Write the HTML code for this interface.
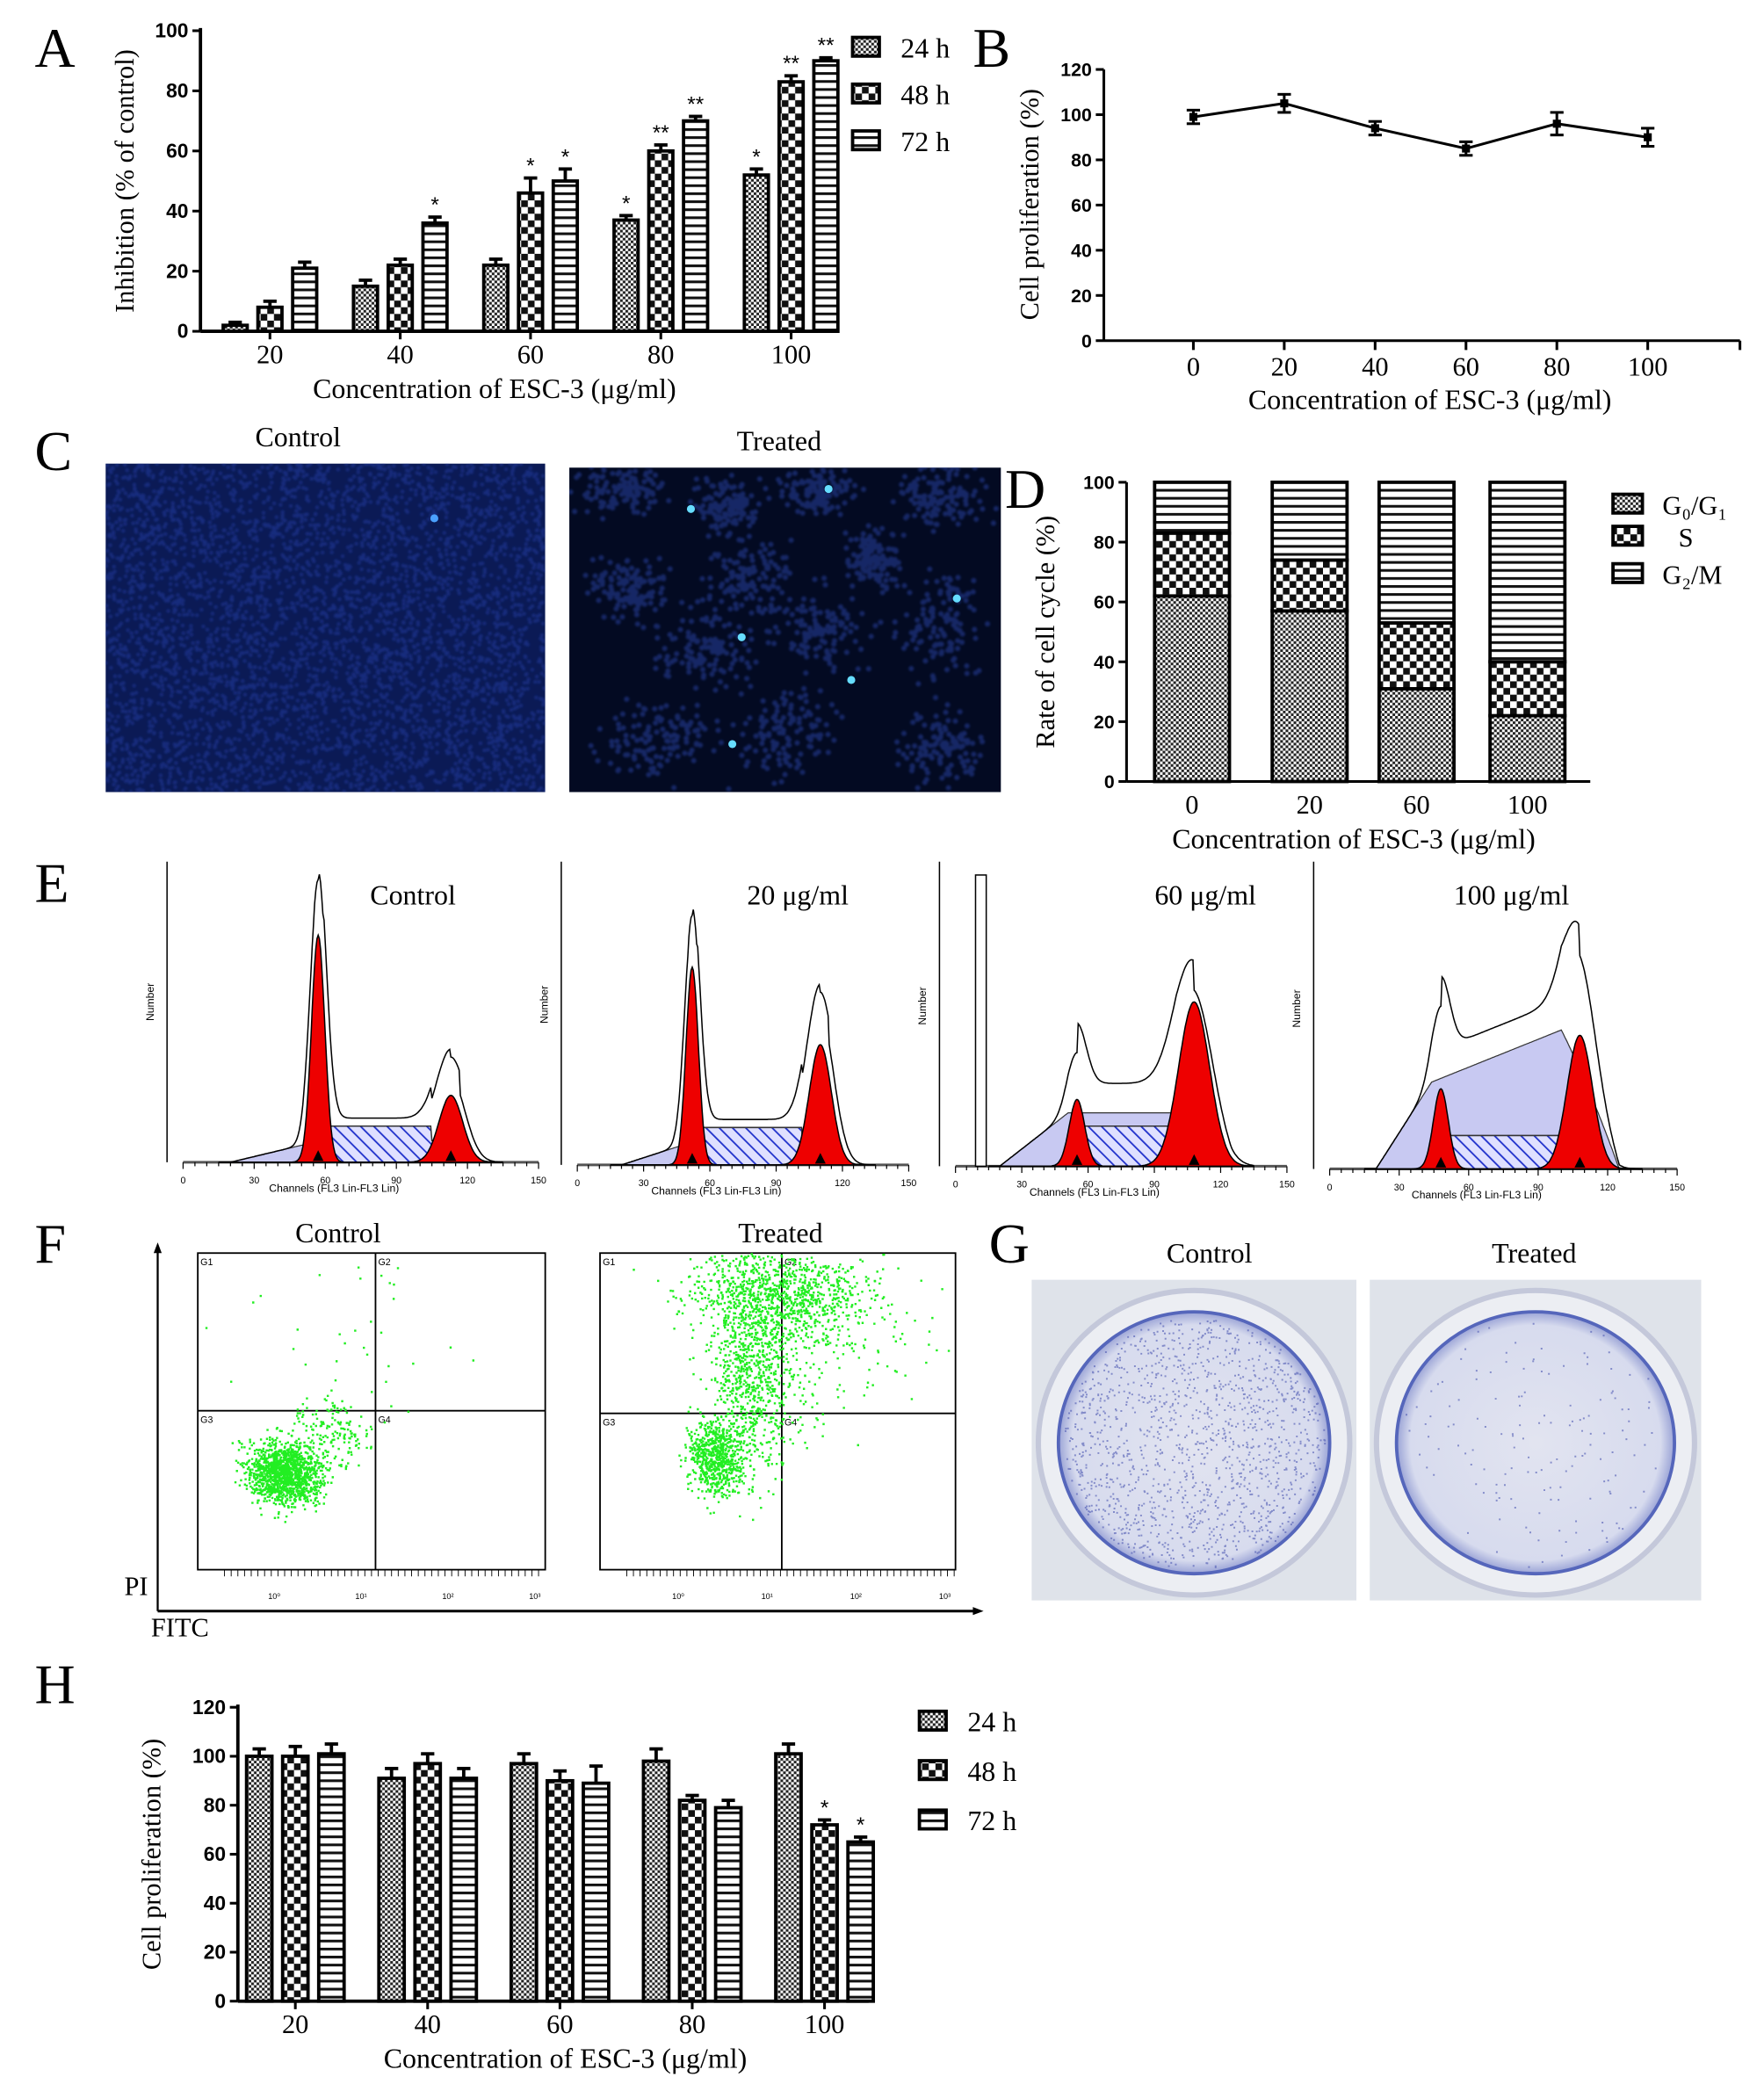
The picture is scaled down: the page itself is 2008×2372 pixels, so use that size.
<!DOCTYPE html>
<html><head><meta charset="utf-8"><style>
html,body{margin:0;padding:0;background:#fff;}
svg{display:block;}
text{font-family:"Liberation Serif",serif;}
.sans{font-family:"Liberation Sans",sans-serif;}
</style></head><body>
<svg id="fig" xmlns="http://www.w3.org/2000/svg" width="2008" height="2372" viewBox="0 0 1320 1560" preserveAspectRatio="none">
<defs>
<pattern id="p24" width="4" height="4" patternUnits="userSpaceOnUse"><rect width="4" height="4" fill="#fff"/><rect width="2" height="2" fill="#222"/><rect x="2" y="2" width="2" height="2" fill="#222"/></pattern>
<pattern id="p48" width="10" height="10" patternUnits="userSpaceOnUse"><rect width="10" height="10" fill="#fff"/><rect width="5" height="5" fill="#111"/><rect x="5" y="5" width="5" height="5" fill="#111"/></pattern>
<pattern id="p72" width="6" height="6" patternUnits="userSpaceOnUse"><rect width="6" height="6" fill="#fff"/><rect y="0" width="6" height="2" fill="#111"/></pattern>
<pattern id="hatch" width="7" height="7" patternUnits="userSpaceOnUse" patternTransform="rotate(-45)"><rect width="7" height="7" fill="#dfe0ff"/><rect width="1.2" height="7" fill="#2233cc"/></pattern>
<radialGradient id="dish" cx="50%" cy="50%" r="50%"><stop offset="0" stop-color="#e2e4f0"/><stop offset="0.9" stop-color="#d7dbee"/><stop offset="1" stop-color="#9aa3d6"/></radialGradient>
<clipPath id="clipC1"><rect x="79" y="347" width="329" height="246"/></clipPath>
<clipPath id="clipC2"><rect x="426" y="350" width="323" height="243"/></clipPath>
<filter id="blur1"><feGaussianBlur stdDeviation="0.8"/></filter>
</defs>
<g id="root"></g>
</svg>
<script>
const NS="http://www.w3.org/2000/svg";
const root=document.getElementById('root');
function el(tag,attrs,parent,txt){const e=document.createElementNS(NS,tag);for(const k in attrs)e.setAttribute(k,attrs[k]);if(txt!==undefined)e.textContent=txt;(parent||root).appendChild(e);return e;}

// ---------- Panel A data ----------
const aCats=["20","40","60","80","100"];
const a24=[2,15,22,37,52];
const a48=[8,22,46,60,83];
const a72=[21,36,50,70,90];
const a24err=[1,2,2,1.5,2];
const a48err=[2,2,5,2,2];
const a72err=[2,2,4,1.5,1];
const a24star=["","","","*","*"];
const a48star=["","","*","**","**"];
const a72star=["","*","*","**","**"];
const aTicks=[0,20,40,60,80,100];
// ---------- Panel B data ----------
const bCats=[0,20,40,60,80,100];
const bVals=[99,105,94,85,96,90];
const bErr=[3,4,3,3,5,4];
const bTicks=[0,20,40,60,80,100,120];
// ---------- Panel D data ----------
const dCats=["0","20","60","100"];
const dG1=[62,57,31,22];
const dS=[21,17,22,18];
const dG2=[17,26,47,60];
const dTicks=[0,20,40,60,80,100];
// ---------- Panel H data ----------
const hCats=["20","40","60","80","100"];
const h24=[100,91,97,98,101];
const h48=[100,97,90,82,72];
const h72=[101,91,89,79,65];
const h24err=[3,4,4,5,4];
const h48err=[4,4,4,2,2];
const h72err=[4,4,7,3,2];
const h48star=["","","","","*"];
const h72star=["","","","","*"];
const hTicks=[0,20,40,60,80,100,120];

function panelLetter(t,x,y){const e=el('text',{x:x,y:y,'font-size':42},root,t);

}

function groupedBars(cfg){
  const g=el('g',{});
  
  
  const y=v=>cfg.y0-(v-cfg.vmin)/(cfg.vmax-cfg.vmin)*(cfg.y0-cfg.y1);
  const xc=i=>cfg.c0+i*cfg.step;
  const ya=el('line',{x1:cfg.ax,y1:cfg.y1-2,x2:cfg.ax,y2:cfg.y0,stroke:'#000','stroke-width':2.5},g);
  
  
  const xa=el('line',{x1:cfg.ax,y1:cfg.y0,x2:cfg.xend,y2:cfg.y0,stroke:'#000','stroke-width':2.5},g);
  
  
  cfg.ticks.forEach(t=>{el('line',{x1:cfg.ax-6,y1:y(t),x2:cfg.ax,y2:y(t),stroke:'#000','stroke-width':2},g);
    const tl=el('text',{x:cfg.ax-9,y:y(t)+5,'font-size':15,'font-weight':'bold','text-anchor':'end',class:'sans'},g,t);
    
    });
  cfg.cats.forEach((c,i)=>{el('line',{x1:xc(i),y1:cfg.y0,x2:xc(i),y2:cfg.y0+6,stroke:'#000','stroke-width':2},g);
    const tl=el('text',{x:xc(i),y:cfg.y0+24,'font-size':20,'text-anchor':'middle'},g,c);
    
    });
  cfg.series.forEach((s,si)=>{
    s.vals.forEach((v,i)=>{
      const cx=xc(i)+(si-1)*cfg.off;
      const r=el('rect',{x:cx-cfg.bw/2,y:y(v),width:cfg.bw,height:cfg.y0-y(v),fill:'url(#'+s.pat+')',stroke:'#000','stroke-width':2.5},g);
      
      
      const te=y(v+s.err[i]);
      el('line',{x1:cx,y1:y(v),x2:cx,y2:te,stroke:'#000','stroke-width':2.5},g);
      el('line',{x1:cx-5,y1:te,x2:cx+5,y2:te,stroke:'#000','stroke-width':2.5},g);
      if(s.star&&s.star[i]){const st=el('text',{x:cx,y:te-4,'font-size':16,'text-anchor':'middle',class:'sans'},g,s.star[i]);
        
        }
    });
  });
  const yt=el('text',{transform:`translate(${cfg.ylx},${(cfg.y0+cfg.y1)/2}) rotate(-90)`,'font-size':20,'text-anchor':'middle'},g,cfg.ylab);
  
  
  const xt=el('text',{x:cfg.xlx,y:cfg.y0+50,'font-size':21,'text-anchor':'middle'},g,cfg.xlab);
  
  
  cfg.legend.forEach((L,i)=>{
    const ly=cfg.legY+i*cfg.legStep;
    const lr=el('rect',{x:cfg.legX,y:ly-8,width:20,height:14,fill:'url(#'+L.pat+')',stroke:'#000','stroke-width':2.5},g);
    
    
    const lt=el('text',{x:cfg.legX+36,y:ly+7,'font-size':21},g,L.label);
    
    
  });
}

// ---- Panel A ----
panelLetter('A',26,50);
groupedBars({name:'chart-a-inhibition',y0:248,y1:23,vmin:0,vmax:100,ax:150,xend:612,c0:202,step:97.5,off:26,bw:18,
 cats:aCats,ticks:aTicks,
 series:[{key:'24h',vals:a24,err:a24err,star:a24star,pat:'p24'},{key:'48h',vals:a48,err:a48err,star:a48star,pat:'p48'},{key:'72h',vals:a72,err:a72err,star:a72star,pat:'p72'}],
 ylab:'Inhibition (% of control)',ylx:100,xlab:'Concentration of ESC-3 (μg/ml)',xlx:370,
 legend:[{key:'24h',label:'24 h',pat:'p24'},{key:'48h',label:'48 h',pat:'p48'},{key:'72h',label:'72 h',pat:'p72'}],legX:638,legY:36,legStep:35});

// ---- Panel B ----
panelLetter('B',728,50);
(function(){
 const g=el('g',{});
 
 
 const y0=255,y1=52,ax=826;
 const y=v=>y0-v/120*(y0-y1);
 const x=v=>893+v/100*(1233-893);
 el('line',{x1:ax,y1:y1,x2:ax,y2:y0,stroke:'#000','stroke-width':2},g);
 el('line',{x1:ax,y1:y0,x2:1302,y2:y0,stroke:'#000','stroke-width':2},g);
 el('line',{x1:1302,y1:y0,x2:1302,y2:y0+7,stroke:'#000','stroke-width':2},g);
 bTicks.forEach(t=>{el('line',{x1:ax-6,y1:y(t),x2:ax,y2:y(t),stroke:'#000','stroke-width':2},g);
  el('text',{x:ax-9,y:y(t)+5,'font-size':14,'font-weight':'bold','text-anchor':'end',class:'sans'},g,t);});
 bCats.forEach(c=>{el('line',{x1:x(c),y1:y0,x2:x(c),y2:y0+7,stroke:'#000','stroke-width':2},g);
  el('text',{x:x(c),y:y0+26,'font-size':20,'text-anchor':'middle'},g,c);});
 const pts=bCats.map((c,i)=>x(c)+','+y(bVals[i])).join(' ');
 const pl=el('polyline',{points:pts,fill:'none',stroke:'#000','stroke-width':2},g);
 
 
 bCats.forEach((c,i)=>{const cx=x(c),cy=y(bVals[i]);
  const p=el('rect',{x:cx-3,y:cy-3,width:6,height:6,fill:'#000'},g);
  
  
  el('line',{x1:cx,y1:y(bVals[i]-bErr[i]),x2:cx,y2:y(bVals[i]+bErr[i]),stroke:'#000','stroke-width':2},g);
  [bVals[i]-bErr[i],bVals[i]+bErr[i]].forEach(v=>el('line',{x1:cx-5,y1:y(v),x2:cx+5,y2:y(v),stroke:'#000','stroke-width':2},g));});
 el('text',{transform:`translate(777,153) rotate(-90)`,'font-size':20,'text-anchor':'middle'},g,'Cell proliferation (%)');
 el('text',{x:1070,y:306,'font-size':21,'text-anchor':'middle'},g,'Concentration of ESC-3 (μg/ml)');
})();

// ---- Panel C (microscopy images) ----
panelLetter('C',26,352);
(function(){
 let seed=7;const rnd=()=>{seed=(seed*16807)%2147483647;return seed/2147483647;};
 const gn=()=>{let s=0;for(let i=0;i<4;i++)s+=rnd();return (s-2)/0.58;};
 const g1=el('g',{'clip-path':'url(#clipC1)'});
 
 
 el('rect',{x:79,y:347,width:329,height:246,fill:'#0b1a55'},g1);
 let d='';
 for(let i=0;i<4500;i++){const px=79+rnd()*329,py=347+rnd()*246;d+=`M${px.toFixed(1)},${py.toFixed(1)}m-1.4,0a1.4,1.4 0 1,0 2.8,0a1.4,1.4 0 1,0 -2.8,0`;}
 el('path',{d:d,fill:'#1f3aa0','fill-opacity':0.55,filter:'url(#blur1)'},g1);
 el('circle',{cx:325,cy:388,r:3,fill:'#4aa0ff'},g1);
 const g2=el('g',{'clip-path':'url(#clipC2)'});
 
 
 el('rect',{x:426,y:350,width:323,height:243,fill:'#030a22'},g2);
 const cl=[[465,365,16,10],[545,380,12,9],[612,368,14,8],[705,372,16,12],[560,432,16,14],[470,440,13,11],[612,470,20,14],[530,485,18,16],[705,470,14,20],[490,555,20,14],[592,548,18,16],[705,560,16,12],[655,418,11,11]];
 d='';
 cl.forEach(([cx,cy,sx,sy])=>{for(let i=0;i<130;i++){const px=cx+gn()*sx,py=cy+gn()*sy;d+=`M${px.toFixed(1)},${py.toFixed(1)}m-2,0a2,2 0 1,0 4,0a2,2 0 1,0 -4,0`;}});
 el('path',{d:d,fill:'#2d4ab8','fill-opacity':0.45,filter:'url(#blur1)'},g2);
 [[620,366],[555,477],[716,448],[517,381],[637,509],[548,557]].forEach(([x,y])=>el('circle',{cx:x,cy:y,r:3,fill:'#66ddff'},g2));
 [['Control',223,334],['Treated',583,337]].forEach(([lab,tx,ty])=>{
  const t=el('text',{x:tx,y:ty,'font-size':21,'text-anchor':'middle'},root,lab);
  
  });
})();

// ---- Panel D ----
panelLetter('D',752,380);
(function(){
 const g=el('g',{});
 
 
 const y0=585,y1=361,ax=843;
 const y=v=>y0-v/100*(y0-y1);
 const xs=[892,980,1060,1143];
 el('line',{x1:ax,y1:y1,x2:ax,y2:y0,stroke:'#000','stroke-width':2},g);
 el('line',{x1:ax,y1:y0,x2:1190,y2:y0,stroke:'#000','stroke-width':2},g);
 dTicks.forEach(t=>{el('line',{x1:ax-6,y1:y(t),x2:ax,y2:y(t),stroke:'#000','stroke-width':2},g);
  el('text',{x:ax-9,y:y(t)+5,'font-size':14,'font-weight':'bold','text-anchor':'end',class:'sans'},g,t);});
 dCats.forEach((c,i)=>{
  el('text',{x:xs[i],y:y0+24,'font-size':20,'text-anchor':'middle'},g,c);
  let base=0;
  [[dG1,'p24','g0g1'],[dS,'p48','s'],[dG2,'p72','g2m']].forEach(([arr,p,k])=>{
   const r=el('rect',{x:xs[i]-28,y:y(base+arr[i]),width:56,height:y(base)-y(base+arr[i]),fill:'url(#'+p+')',stroke:'#000','stroke-width':2.5},g);
   
   
   base+=arr[i];});
 });
 el('text',{transform:`translate(789,473) rotate(-90)`,'font-size':20,'text-anchor':'middle'},g,'Rate of cell cycle (%)');
 el('text',{x:1013,y:635,'font-size':21,'text-anchor':'middle'},g,'Concentration of ESC-3 (μg/ml)');
 [['p24','G₀/G₁',378],['p48','S',402],['p72','G₂/M',430]].forEach(([p,l,ly])=>{
  el('rect',{x:1207,y:ly-8,width:22,height:14,fill:'url(#'+p+')',stroke:'#000','stroke-width':2.5},g);
  const t=el('text',{x:l==='S'?1256:1244,y:ly+7,'font-size':20},g,l);
  
  });
})();

// ---- Panel E (flow histograms) ----
panelLetter('E',26,675);
const eTitles=["Control","20 μg/ml","60 μg/ml","100 μg/ml"];
const eG1pos=[57,52,55,48];
const eG1h=[170,148,50,60];
const eG1w=[2.8,2.8,3.5,3.2];
const eG2pos=[113,110,108,108];
const eG2h=[50,90,123,100];
const eG2w=[5,5,7,5.5];
const eSh=[27,28,30,25];
const eDebris=[14,15,40,65];
(function(){
 const px=[[137,403,870],[432,680,872],[715,963,873],[995,1255,875]];
 eTitles.forEach((t,k)=>{
  const [xa,xb,yb]=px[k];
  const g=el('g',{});
  
  
  const X=c=>xa+c/150*(xb-xa);
  el('line',{x1:xa,y1:yb,x2:xb,y2:yb,stroke:'#555','stroke-width':2},g);
  el('line',{x1:xa-12,y1:yb,x2:xa-12,y2:645,stroke:'#000','stroke-width':1},g);
  for(let c=0;c<=150;c+=5)el('line',{x1:X(c),y1:yb,x2:X(c),y2:yb+(c%30?3:5),stroke:'#000','stroke-width':0.8},g);
  [0,30,60,90,120,150].forEach(c=>el('text',{x:X(c),y:yb+16,'font-size':7,'text-anchor':'middle',class:'sans'},g,c));
  el('text',{x:(xa+xb)/2-20,y:yb+22,'font-size':8,'text-anchor':'middle',class:'sans'},g,'Channels (FL3 Lin-FL3 Lin)');
  el('text',{transform:`translate(${xa-22},${yb-120}) rotate(-90)`,'font-size':8,'text-anchor':'middle',class:'sans'},g,'Number');
  const gauss=(c,m,h,w)=>h*Math.exp(-((c-m)*(c-m))/(2*w*w));
  const deb=c=>{const s=20,e=eG1pos[k]-4;if(c<s)return 0;if(c<e)return eDebris[k]*(c-s)/(e-s);
    if(k>=2){const top=eDebris[k]*(1+(k==3?0.6:0)*(c-e)/(100-e));return c<100?top:Math.max(0,top*(125-c)/25);}
    return Math.max(0,eDebris[k]*(1-(c-e)/20));};
  const S=c=>(c>eG1pos[k]+2&&c<eG2pos[k]-8)?eSh[k]:((c>eG1pos[k]-2&&c<=eG1pos[k]+2)||(c>=eG2pos[k]-8&&c<eG2pos[k]+4)?eSh[k]*0.6:0);
  const path=f=>{let d='M'+X(15)+','+yb;for(let c=15;c<=135;c+=0.5)d+=' L'+X(c).toFixed(1)+','+(yb-f(c)).toFixed(1);return d+' L'+X(135)+','+yb+' Z';};
  const deb1=el('path',{d:path(deb),fill:'#c8c9f2',stroke:'#333','stroke-width':0.8},g);
  
  
  const sArea=el('path',{d:path(S),fill:'url(#hatch)',stroke:'#333','stroke-width':1},g);
  
  
  const p1=el('path',{d:path(c=>gauss(c,eG1pos[k],eG1h[k],eG1w[k])),fill:'#ee0000',stroke:'#000','stroke-width':1},g);
  
  
  const p2=el('path',{d:path(c=>gauss(c,eG2pos[k],eG2h[k],eG2w[k])),fill:'#ee0000',stroke:'#000','stroke-width':1},g);
  
  
  const env=c=>Math.max(deb(c),S(c))+gauss(c,eG1pos[k],eG1h[k]*(k>=2?0.9:1.15),eG1w[k]*1.2)+gauss(c,eG2pos[k],eG2h[k]*(k>=2?0.85:1.25),eG2w[k]*1.2)+(k>=2?22:6)*(c>eG1pos[k]&&c<eG2pos[k]?1:0);
  let d='M'+X(15)+','+yb;for(let c=15;c<=135;c+=0.5)d+=' L'+X(c).toFixed(1)+','+(yb-env(c)).toFixed(1);
  const en=el('path',{d:d,fill:'none',stroke:'#000','stroke-width':1},g);
  
  
  el('path',{d:`M${X(eG1pos[k])-4},${yb-1} l4,-8 l4,8z`,fill:'#000'},g);
  el('path',{d:`M${X(eG2pos[k])-4},${yb-1} l4,-8 l4,8z`,fill:'#000'},g);
  if(k===2)el('rect',{x:730,y:655,width:8,height:yb-655,fill:'#fff',stroke:'#000','stroke-width':1},g);
  const tt=el('text',{x:[309,597,902,1131][k],y:677,'font-size':21,'text-anchor':'middle'},root,t);
  
  
 });
})();

// ---- Panel F (dot plots) ----
panelLetter('F',26,945);
(function(){
 let seed=11;const rnd=()=>{seed=(seed*16807)%2147483647;return seed/2147483647;};
 const gn=()=>{let s=0;for(let i=0;i<4;i++)s+=rnd();return (s-2)/0.58;};
 const boxes=[[148,408,938,1175,281,1056,'Control',253],[449,715,938,1175,585,1058,'Treated',584]];
 boxes.forEach(([x0,x1,y0,y1,qx,qy,lab,tx],k)=>{
  const g=el('g',{});
  
  
  el('rect',{x:x0,y:y0,width:x1-x0,height:y1-y0,fill:'#fff',stroke:'#000','stroke-width':1.2},g);
  el('line',{x1:qx,y1:y0,x2:qx,y2:y1,stroke:'#000','stroke-width':1.2},g);
  el('line',{x1:x0,y1:qy,x2:x1,y2:qy,stroke:'#000','stroke-width':1.2},g);
  ['G1','G2','G3','G4'].forEach((q,i)=>el('text',{x:(i%2?qx:x0)+2,y:(i<2?y0:qy)+9,'font-size':7,class:'sans'},g,q));
  for(let c=0;c<4;c++)el('text',{x:x0+(x1-x0)*(0.22+c*0.25),y:y1+22,'font-size':6,'text-anchor':'middle',class:'sans'},g,'10'+['⁰','¹','²','³'][c]);
  for(let c=x0+20;c<x1;c+=5)el('line',{x1:c,y1:y1,x2:c,y2:y1+5,stroke:'#000','stroke-width':0.6},g);
  let dots='';
  const add=(cx,cy,sx,sy,n)=>{for(let i=0;i<n;i++){const a=gn(),b=gn();const px=cx+a*sx+b*sx*0.5,py=cy+b*sy-a*sy*0.4;if(px>x0&&px<x1&&py>y0&&py<y1)dots+=`M${px.toFixed(1)},${py.toFixed(1)}h1.6v1.6h-1.6z`;}};
  if(k===0){add(212,1102,12,11,1400);add(250,1070,12,12,150);add(270,1000,40,50,40);}
  else{add(535,1090,9,13,700);add(560,1040,12,30,500);add(570,990,20,35,500);add(585,970,30,15,800);add(620,990,45,35,200);}
  const dp=el('path',{d:dots,fill:'#22ee22'},g);
  
  
  const tt=el('text',{x:tx,y:930,'font-size':21,'text-anchor':'middle'},root,lab);
  
  
 });
 el('line',{x1:118,y1:935,x2:118,y2:1206,stroke:'#000','stroke-width':1.5});
 el('path',{d:'M115,938 l3,-8 l3,8z',fill:'#000'});
 el('line',{x1:118,y1:1206,x2:730,y2:1206,stroke:'#000','stroke-width':2});
 el('path',{d:'M728,1203 l8,3 l-8,3z',fill:'#000'});
 const pi=el('text',{x:93,y:1194,'font-size':20},root,'PI');
 
 
 const fi=el('text',{x:113,y:1225,'font-size':20},root,'FITC');
 
 
})();

// ---- Panel G (dish photos) ----
panelLetter('G',740,945);
(function(){
 let seed=5;const rnd=()=>{seed=(seed*16807)%2147483647;return seed/2147483647;};
 [[772,958,243,240,'Control',905,1],[1025,958,248,240,'Treated',1148,0]].forEach(([x,y,w,h,lab,tx,many])=>{
  const g=el('g',{});
  
  
  el('rect',{x:x,y:y,width:w,height:h,fill:'#dfe3ea'},g);
  const cx=x+w/2,cy=y+h/2+2;
  el('ellipse',{cx:cx,cy:cy,rx:w/2-5,ry:h/2-6,fill:'#eceef3',stroke:'#c4c8da','stroke-width':4},g);
  el('ellipse',{cx:cx,cy:cy,rx:w/2-20,ry:h/2-22,fill:'url(#dish)',stroke:'#5566bb','stroke-width':2.5},g);
  let d='';const n=many?1400:150;
  for(let i=0;i<n;i++){const a=rnd()*6.283,r=Math.sqrt(rnd());const px=cx+Math.cos(a)*r*(w/2-24),py=cy+Math.sin(a)*r*(h/2-26);d+=`M${px.toFixed(1)},${py.toFixed(1)}h1.3v1.3h-1.3z`;}
  el('path',{d:d,fill:'#4a55b0','fill-opacity':0.6},g);
  const tt=el('text',{x:tx,y:945,'font-size':21,'text-anchor':'middle'},root,lab);
  
  
 });
})();

// ---- Panel H ----
panelLetter('H',26,1275);
groupedBars({name:'chart-h-proliferation',y0:1498,y1:1278,vmin:0,vmax:120,ax:178,xend:650,c0:221,step:99,off:27,bw:19,
 cats:hCats,ticks:hTicks,
 series:[{key:'24h',vals:h24,err:h24err,star:null,pat:'p24'},{key:'48h',vals:h48,err:h48err,star:h48star,pat:'p48'},{key:'72h',vals:h72,err:h72err,star:h72star,pat:'p72'}],
 ylab:'Cell proliferation (%)',ylx:120,xlab:'Concentration of ESC-3 (μg/ml)',xlx:423,
 legend:[{key:'24h',label:'24 h',pat:'p24'},{key:'48h',label:'48 h',pat:'p48'},{key:'72h',label:'72 h',pat:'p72'}],legX:688,legY:1289,legStep:37});
</script>
</body></html>
